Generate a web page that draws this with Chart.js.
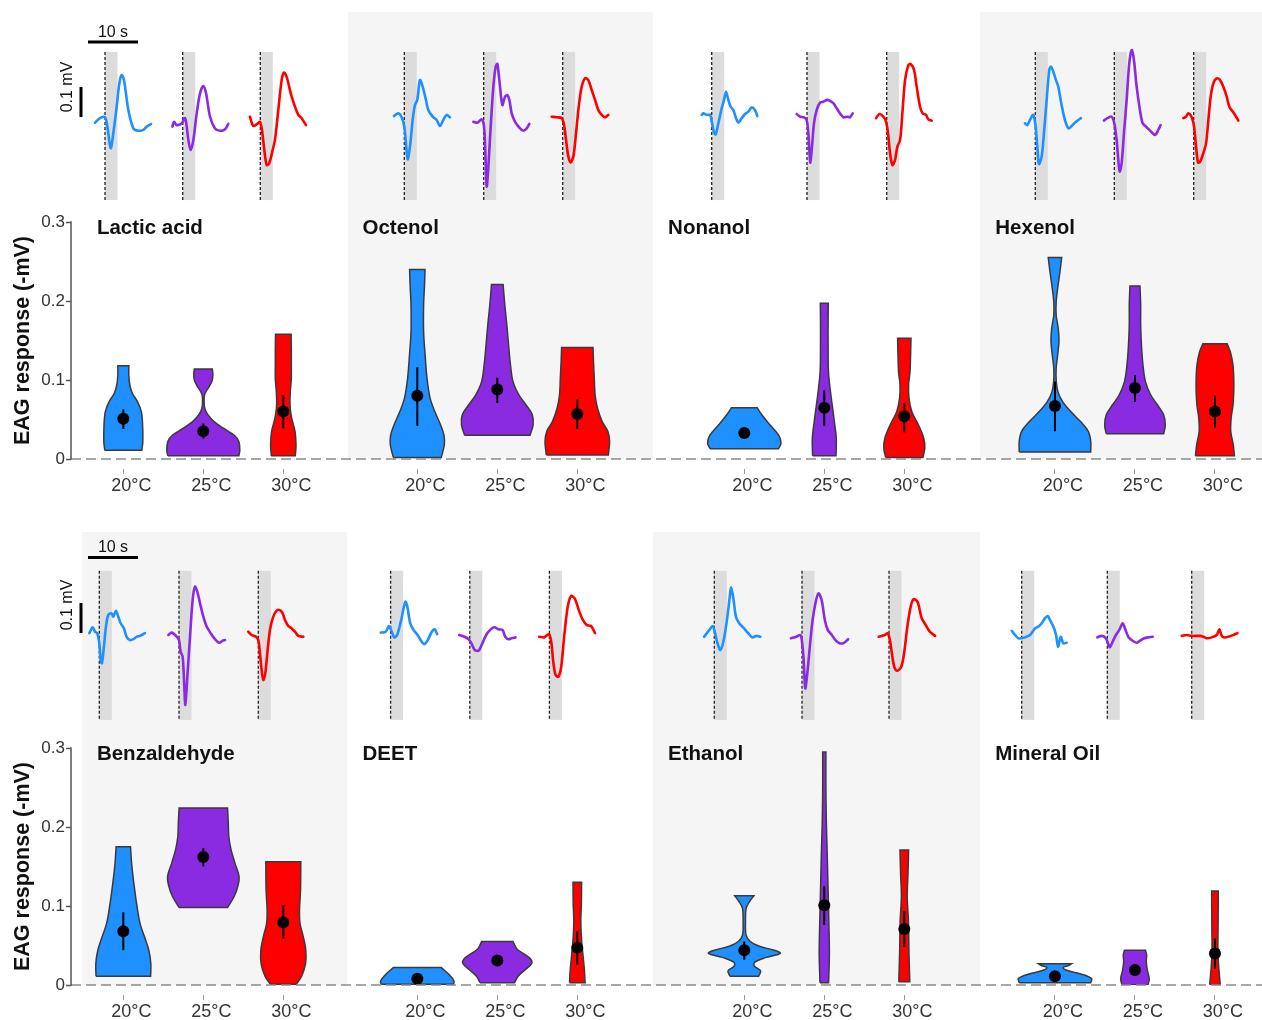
<!DOCTYPE html>
<html>
<head>
  <meta charset="utf-8">
  <title>EAG responses by temperature</title>
  <script src="https://cdn.jsdelivr.net/npm/chart.js"></script>
  <style>
    html, body { margin: 0; padding: 0; background: #fff; }
    canvas { position: absolute; left: 0; }
    #row1 { top: 0; }
    #row2 { top: 526px; }
  </style>
</head>
<body>
  <canvas id="row1" width="1262" height="526"></canvas>
  <canvas id="row2" width="1262" height="494"></canvas>

  <script>
    // ---------- data ----------
    const temperatures = ['20°C', '25°C', '30°C'];
    const yTicks = [0, 0.1, 0.2, 0.3];
    const odorsTop = ['Lactic acid', 'Octenol', 'Nonanol', 'Hexenol'];
    const odorsBottom = ['Benzaldehyde', 'DEET', 'Ethanol', 'Mineral Oil'];

    // mean EAG response (-mV) and error bar [low, high] per temperature
    const lacticMean = [0.051, 0.035, 0.060];
    const lacticErr = [[0.038, 0.063], [0.026, 0.045], [0.039, 0.081]];
    const octenolMean = [0.080, 0.088, 0.057];
    const octenolErr = [[0.042, 0.116], [0.071, 0.103], [0.038, 0.076]];
    const nonanolMean = [0.033, 0.065, 0.054];
    const nonanolErr = [[0.030, 0.036], [0.042, 0.087], [0.034, 0.071]];
    const hexenolMean = [0.067, 0.090, 0.060];
    const hexenolErr = [[0.035, 0.098], [0.072, 0.106], [0.040, 0.080]];
    const benzMean = [0.068, 0.162, 0.079];
    const benzErr = [[0.044, 0.092], [0.150, 0.173], [0.059, 0.101]];
    const deetMean = [0.008, 0.031, 0.047];
    const deetErr = [[0.006, 0.010], [0.028, 0.034], [0.026, 0.068]];
    const ethanolMean = [0.044, 0.101, 0.071];
    const ethanolErr = [[0.032, 0.055], [0.076, 0.125], [0.048, 0.094]];
    const mineralMean = [0.011, 0.019, 0.040];
    const mineralErr = [[0.009, 0.013], [0.017, 0.021], [0.021, 0.059]];

    // violin outlines: [response, density] from bottom to top
    const lacticViolin = [
      [[0.011,18.5],[0.022,19.5],[0.043,19.3],[0.060,18],[0.073,14],[0.083,9],[0.094,6.5],[0.106,5.5],[0.118,5.5]],
      [[0.004,35.5],[0.011,36.5],[0.022,35.5],[0.030,31],[0.039,20],[0.047,11],[0.056,4.5],[0.064,1.5],[0.073,0.8],[0.081,1.2],[0.085,2.5],[0.092,6],[0.100,9],[0.108,9.5],[0.114,9]],
      [[0.004,12],[0.018,12.7],[0.035,11.7],[0.052,8.3],[0.068,6.7],[0.085,7],[0.102,8],[0.119,8],[0.136,8],[0.158,7.8]]
    ];
    const octenolViolin = [
      [[0.002,24],[0.018,27],[0.030,26.7],[0.043,23.3],[0.060,17.5],[0.077,12.8],[0.102,9.7],[0.132,7.8],[0.161,6.3],[0.195,6.3],[0.220,7.2],[0.240,7.7]],
      [[0.030,32.7],[0.043,35.8],[0.056,35],[0.068,29],[0.081,21.7],[0.098,15.7],[0.119,13.2],[0.144,11.3],[0.170,9.5],[0.195,7.5],[0.221,5.8]],
      [[0.005,31],[0.022,32.3],[0.035,30.5],[0.047,25],[0.064,20.3],[0.081,17.8],[0.102,17],[0.123,16.2],[0.141,15.7]]
    ];
    const nonanolViolin = [
      [[0.013,34.2],[0.020,36.7],[0.030,34.5],[0.043,25.8],[0.056,17.5],[0.065,12.8]],
      [[0.004,11.7],[0.026,12],[0.043,10.5],[0.060,8.8],[0.085,6.2],[0.110,4.2],[0.144,3.8],[0.174,3.8],[0.197,4]],
      [[0.002,18.7],[0.014,20.5],[0.026,19.5],[0.043,14.2],[0.060,7.5],[0.077,4.7],[0.094,4.3],[0.110,5.7],[0.132,6.3],[0.153,6.7]]
    ];
    const hexenolViolin = [
      [[0.009,35.7],[0.022,35.8],[0.035,33.3],[0.047,25.8],[0.060,15.8],[0.073,7.5],[0.085,3],[0.098,1.3],[0.115,1.2],[0.132,2.7],[0.149,4],[0.165,3.3],[0.182,1.2],[0.199,1.2],[0.216,2.7],[0.237,5],[0.255,6.7]],
      [[0.032,28.7],[0.043,30.3],[0.056,28.7],[0.068,22.8],[0.081,15.8],[0.098,10.5],[0.119,8],[0.144,6.5],[0.170,5.7],[0.195,5.7],[0.219,5]],
      [[0.004,19.5],[0.018,18.3],[0.035,15.8],[0.052,16.2],[0.068,18],[0.085,18.8],[0.102,18.8],[0.119,18],[0.136,15.3],[0.146,12]]
    ];
    const benzViolin = [
      [[0.011,27.3],[0.027,27.5],[0.044,25.5],[0.061,21.2],[0.078,16.7],[0.103,13.3],[0.129,10.5],[0.154,8.3],[0.175,7.2]],
      [[0.098,24.2],[0.112,30.8],[0.125,34.5],[0.137,35.8],[0.154,31.7],[0.171,27.8],[0.188,25.5],[0.205,25],[0.224,24.2]],
      [[0.001,13],[0.011,18.3],[0.027,22.2],[0.044,22.5],[0.061,20],[0.078,16.7],[0.095,16.2],[0.120,17.2],[0.156,17.5]]
    ];
    const deetViolin = [
      [[0.001,36.2],[0.005,36.7],[0.013,32],[0.022,24]],
      [[0.003,17.3],[0.011,20.8],[0.019,27.6],[0.027,34.3],[0.033,33.3],[0.040,25.9],[0.046,19.4],[0.055,15.7]],
      [[0.003,7.8],[0.019,7.1],[0.040,5.5],[0.061,4.1],[0.082,3.5],[0.103,4.1],[0.130,4.3]]
    ];
    const ethanolViolin = [
      [[0.011,14.3],[0.018,16.3],[0.024,10],[0.029,10.5],[0.035,22],[0.040,35.9],[0.044,30],[0.049,15],[0.055,6],[0.063,1.8],[0.082,1.2],[0.097,1.8],[0.106,5.5],[0.113,9.6]],
      [[0.003,4.3],[0.040,5.1],[0.082,4.5],[0.125,3.7],[0.167,2.9],[0.209,2],[0.251,1.6],[0.295,1.6]],
      [[0.004,5.5],[0.040,4.7],[0.082,4.1],[0.112,2.9],[0.141,3.7],[0.171,4.3]]
    ];
    const mineralViolin = [
      [[0.003,35.7],[0.008,36.7],[0.014,25.8],[0.018,13.3],[0.022,8],[0.025,14.2],[0.027,16.7]],
      [[0.0004,13],[0.008,14.3],[0.019,12.3],[0.030,11.3],[0.038,11.7],[0.044,10.5]],
      [[0.0004,5.3],[0.019,4],[0.040,3],[0.061,3],[0.103,3.3],[0.119,3.3]]
    ];

    // example EAG traces: [time from stimulus onset (s), voltage (mV)]
    const lacticTrace = [
      [[-2,-0.009],[-1,0.006],[0,0.009],[0.47,-0.022],[1.13,-0.094],[1.67,-0.044],[2.33,0.044],[2.87,0.122],[3.33,0.15],[3.8,0.133],[4.67,0.033],[5.67,-0.028],[6.67,-0.036],[7.67,-0.033],[8.33,-0.022],[9.2,-0.014]],
      [[-2.07,-0.022],[-1.73,-0.006],[-1.2,-0.017],[-0.2,-0.011],[0.47,0.006],[0.8,-0.022],[1.13,-0.067],[1.6,-0.1],[2.13,-0.067],[2.8,0.022],[3.47,0.089],[4.13,0.113],[4.67,0.089],[5.47,0.011],[6.47,-0.028],[7.47,-0.036],[8.47,-0.031],[9.13,-0.013]],
      [[-2.07,0.011],[-1.4,-0.02],[-0.6,-0.013],[-0.07,-0.006],[0.33,-0.033],[0.73,-0.089],[1.27,-0.15],[1.8,-0.144],[2.47,-0.1],[2.93,-0.067],[3.6,0.033],[4.27,0.133],[4.73,0.158],[5.27,0.144],[6.27,0.078],[7.6,0.017],[8.27,0.006],[9.13,-0.017]]
    ];
    const octenolTrace = [
      [[-2.07,0.013],[-1.2,0.022],[-0.53,0.009],[0,-0.022],[0.33,-0.078],[0.67,-0.131],[1.13,-0.089],[1.67,0],[2.13,0.05],[2.6,0.067],[3.13,0.133],[3.67,0.111],[4.33,0.067],[4.8,0.033],[5.67,0.011],[6.47,0],[7.13,-0.02],[7.8,0],[8.47,0.017],[9.13,0.009]],
      [[-2.07,-0.006],[-1.27,-0.009],[-0.4,0.002],[0.07,-0.022],[0.33,-0.111],[0.6,-0.222],[0.93,-0.156],[1.4,-0.022],[1.93,0.111],[2.4,0.178],[2.73,0.187],[3.13,0.133],[3.73,0.05],[4.27,0.078],[4.73,0.083],[5.13,0.067],[5.6,0.022],[6.27,-0.006],[7.27,-0.028],[7.93,-0.036],[8.6,-0.028],[9.13,-0.013]],
      [[-2.2,0.011],[-1.2,0.009],[-0.2,0.006],[0.27,-0.017],[0.67,-0.067],[1.13,-0.122],[1.6,-0.142],[2.13,-0.122],[2.67,-0.044],[3.2,0.044],[3.8,0.111],[4.47,0.139],[5.13,0.133],[5.8,0.1],[6.47,0.067],[7.13,0.033],[7.8,0.017],[8.47,0.009],[9.13,0.017]]
    ];
    const nonanolTrace = [
      [[-2,0.017],[-1.67,0.022],[-1,0.017],[-0.33,0.017],[0.07,-0.011],[0.47,-0.042],[0.8,-0.048],[1.33,-0.011],[2,0.039],[2.47,0.067],[2.87,0.094],[3.33,0.067],[3.8,0.044],[4.33,0.033],[4.87,0.006],[5.33,-0.009],[6,0.006],[6.67,0.02],[7.33,0.028],[8,0.042],[8.67,0.033],[9.13,0.013]],
      [[-2.07,0.02],[-1.4,0.011],[-0.6,0.009],[-0.07,0],[0.27,-0.044],[0.47,-0.1],[0.67,-0.142],[1,-0.089],[1.4,-0.011],[1.93,0.033],[2.6,0.058],[3.27,0.061],[4.07,0.067],[4.6,0.064],[5.27,0.056],[5.93,0.039],[6.6,0.022],[7.27,0.009],[8.07,0.011],[8.6,0.009],[9.13,0.022]],
      [[-2.13,0.006],[-1.47,0.02],[-0.67,0.011],[-0.13,-0.006],[0.27,-0.044],[0.67,-0.111],[1.13,-0.15],[1.67,-0.133],[2.13,-0.089],[2.67,-0.067],[3.13,0.022],[3.67,0.133],[4.33,0.183],[4.8,0.187],[5.47,0.167],[6,0.111],[6.67,0.044],[7.2,0.022],[7.87,0.017],[8.33,0.002],[9,-0.002]]
    ];
    const hexenolTrace = [
      [[-2.07,-0.011],[-1.6,-0.017],[-1.07,0],[-0.4,0.017],[0.07,-0.022],[0.4,-0.089],[0.73,-0.147],[1.27,-0.122],[1.73,-0.044],[2.27,0.067],[2.8,0.167],[3.13,0.178],[3.6,0.161],[4.13,0.133],[4.6,0.111],[5.07,0.067],[5.6,0.022],[6.13,-0.011],[6.67,-0.028],[7.27,-0.02],[7.93,-0.009],[8.6,0],[9.13,0.006]],
      [[-2.07,-0.002],[-1.4,0.006],[-0.53,0.011],[0,-0.011],[0.47,-0.067],[0.8,-0.133],[1.07,-0.172],[1.47,-0.144],[1.93,-0.044],[2.47,0.067],[2.93,0.178],[3.27,0.222],[3.53,0.233],[3.93,0.2],[4.47,0.111],[5.13,0.033],[5.67,-0.011],[6.33,-0.022],[7,-0.033],[7.67,-0.044],[8.2,-0.05],[8.8,-0.033],[9.27,-0.017]],
      [[-2.07,0.006],[-1.53,0.011],[-1.07,0.022],[-0.4,0.009],[0.07,-0.022],[0.47,-0.089],[0.87,-0.142],[1.27,-0.139],[1.8,-0.117],[2.47,-0.078],[2.93,0],[3.4,0.078],[3.93,0.122],[4.6,0.139],[5.27,0.133],[5.93,0.111],[6.6,0.078],[7.13,0.044],[7.8,0.028],[8.47,0.011],[8.93,-0.002]]
    ];
    const benzTrace = [
      [[-2,-0.004],[-1.33,0.016],[-0.87,0.001],[-0.4,-0.004],[0,-0.038],[0.27,-0.093],[0.53,-0.104],[0.93,-0.049],[1.33,0.018],[1.8,0.057],[2.47,0.062],[2.8,0.051],[3.33,0.071],[3.8,0.051],[4.27,0.029],[4.93,0.012],[5.47,-0.016],[6.13,-0.027],[6.8,-0.024],[7.47,-0.016],[8.13,-0.013],[9.13,-0.004]],
      [[-2.13,-0.01],[-1.47,-0.002],[-0.6,-0.013],[0,-0.027],[0.33,-0.066],[0.73,-0.082],[1,-0.16],[1.27,-0.243],[1.67,-0.149],[2.2,-0.016],[2.73,0.107],[3.2,0.151],[3.67,0.134],[4.2,0.096],[4.87,0.051],[5.53,0.018],[6.33,-0.004],[7.2,-0.024],[8.07,-0.036],[8.73,-0.029],[9.2,-0.027]],
      [[-2,0.001],[-1.33,-0.01],[-0.47,-0.016],[0,-0.027],[0.33,-0.071],[0.67,-0.127],[1,-0.16],[1.4,-0.138],[1.8,-0.071],[2.33,0.007],[3,0.051],[3.67,0.071],[4.33,0.073],[4.87,0.062],[5.33,0.04],[6,0.02],[6.67,0.012],[7.33,0.001],[8,-0.013],[9,-0.016]]
    ];
    const deetTrace = [
      [[-1.96,-0.002],[-0.98,0.001],[-0.33,0.02],[0.08,0.007],[0.73,-0.018],[1.31,-0.01],[2.12,0.04],[2.94,0.101],[3.35,0.084],[3.92,0.029],[4.57,0.007],[5.39,-0.01],[6.2,-0.032],[6.78,-0.04],[7.43,-0.027],[8.24,0.001],[8.82,0.009],[9.31,-0.007]],
      [[-2.12,-0.01],[-1.06,-0.016],[-0.24,-0.024],[0.33,-0.038],[0.98,-0.06],[1.8,-0.062],[2.45,-0.04],[3.27,-0.01],[4.08,0.007],[4.9,0.016],[5.71,0.009],[6.53,0.007],[7.1,-0.016],[7.67,-0.024],[8.33,-0.021],[9.14,-0.018]],
      [[-2.04,-0.016],[-1.06,-0.018],[-0.08,-0.007],[0.41,-0.038],[0.73,-0.093],[1.22,-0.143],[1.8,-0.149],[2.37,-0.116],[3.02,-0.004],[3.67,0.084],[4.33,0.12],[5.06,0.112],[5.88,0.073],[6.69,0.04],[7.51,0.023],[8.33,0.02],[9.14,-0.004]]
    ];
    const ethanolTrace = [
      [[-2.04,-0.016],[-0.98,0.007],[-0.33,0.02],[0.08,0.001],[0.65,-0.038],[1.22,-0.06],[1.88,-0.027],[2.53,0.04],[3.1,0.118],[3.35,0.149],[3.76,0.118],[4.33,0.051],[4.98,0.029],[5.96,0.012],[6.78,-0.004],[7.59,-0.018],[8.41,-0.013],[9.22,-0.016]],
      [[-2.2,-0.021],[-1.14,-0.016],[-0.33,-0.01],[0,-0.032],[0.33,-0.093],[0.65,-0.188],[1.06,-0.138],[1.63,-0.038],[2.12,0.04],[2.69,0.096],[3.27,0.129],[3.92,0.107],[4.57,0.04],[5.14,0.007],[5.96,-0.01],[6.78,-0.029],[7.59,-0.038],[8.41,-0.036],[9.22,-0.024]],
      [[-2.04,-0.016],[-0.82,-0.01],[-0.24,-0.004],[0.24,-0.032],[0.57,-0.071],[1.06,-0.116],[1.63,-0.129],[2.45,-0.116],[3.02,-0.071],[3.67,0.018],[4.33,0.084],[4.9,0.109],[5.71,0.101],[6.53,0.046],[7.35,0.023],[8.16,0.001],[9.22,-0.013]]
    ];
    const mineralTrace = [
      [[-2,0.004],[-1.33,-0.01],[-0.67,-0.021],[0,-0.021],[0.67,-0.018],[1.67,-0.01],[2.67,0.012],[3.33,0.018],[4,0.029],[4.67,0.046],[5.2,0.053],[5.67,0.04],[6.33,0.018],[6.87,-0.01],[7.27,-0.049],[7.8,-0.016],[8.33,-0.038],[9,-0.036]],
      [[-2,-0.018],[-1.13,-0.013],[-0.27,-0.021],[0.13,-0.038],[0.53,-0.051],[1.07,-0.032],[1.73,-0.01],[2.4,0.007],[3.07,0.029],[3.53,0.012],[4.2,-0.016],[4.87,-0.027],[5.87,-0.036],[6.53,-0.029],[7.4,-0.021],[8.07,-0.018],[9.07,-0.016]],
      [[-2,-0.013],[-1,-0.01],[0,-0.013],[1.67,-0.013],[2.33,-0.016],[3,-0.021],[4,-0.018],[5,-0.01],[5.53,0.009],[6,-0.013],[6.47,-0.018],[7.33,-0.016],[8.33,-0.01],[9.13,-0.004]]
    ];

    // ---------- layout and style ----------
    const FONT = '"Liberation Sans", Arial, Helvetica, sans-serif';
    const COLORS = ['#1e90ff', '#8a2be2', '#ff0000'];
    const OUTLINE = '#3a3a3a';
    const PANEL_GREY = '#f5f5f5';
    const BAND_GREY = '#dcdcdc';

    const X_MIN = -0.654, X_MAX = 14.234;       // category units
    const GROUP_X = [0, 3.675, 7.7625, 11.646];  // position of the 20°C violin in each panel
    const TITLE_X = [-0.33, 2.99, 6.81, 10.9];
    const DENSITY_TO_X = 1 / 80;
    const T_MAX = 238.2;                          // trace time axis across the plot (s)
    const STIM_S = 2.5;
    const AXIS_BOTTOM = 459;

    const rows = [
      {
        canvas: 'row1', height: 526, top: 12, odors: odorsTop,
        means: [lacticMean, octenolMean, nonanolMean, hexenolMean],
        errs: [lacticErr, octenolErr, nonanolErr, hexenolErr],
        violins: [lacticViolin, octenolViolin, nonanolViolin, hexenolViolin],
        traces: [lacticTrace, octenolTrace, nonanolTrace, hexenolTrace],
        onsets: [[6.8, 22.34, 37.86], [66.66, 82.54, 98.34], [128.14, 147.2, 163.14], [192.86, 208.66, 224.54]],
        panels: [[2.809, 6.621], [10.709, 15]],
        yt: [-1.13, 0.36], stim: [-0.267, 0.227],
        bar: { t0: 3.4, y: 0.26, labelY: 0.293, vt: 2.0, v0: 0.01, labelT: -0.6, labelV: 0.11 }
      },
      {
        canvas: 'row2', height: 494, top: 6, odors: odorsBottom,
        means: [benzMean, deetMean, ethanolMean, mineralMean],
        errs: [benzErr, deetErr, ethanolErr, mineralErr],
        violins: [benzViolin, deetViolin, ethanolViolin, mineralViolin],
        traces: [benzTrace, deetTrace, ethanolTrace, mineralTrace],
        onsets: [[5.66, 21.6, 37.46], [63.92, 79.76, 95.68], [128.66, 146.2, 163.6], [190.14, 207.26, 224.14]],
        panels: [[-0.516, 2.796], [6.621, 10.709]],
        yt: [-1.1767, 0.3333], stim: [-0.293, 0.204],
        bar: { t0: 3.4, y: 0.248, labelY: 0.28, vt: 2.0, v0: -0.003, labelT: -0.6, labelV: 0.09 }
      }
    ];

    Chart.defaults.font.family = FONT;

    // closed outline; corners doubled so the flat ends stay straight
    function violinPoints(center, profile) {
      const right = profile.map(([v, d]) => ({ x: center + d * DENSITY_TO_X, y: v }));
      const left = profile.map(([v, d]) => ({ x: center - d * DENSITY_TO_X, y: v })).reverse();
      const n = right.length;
      const bl = left[n - 1], br = right[0], tr = right[n - 1], tl = left[0];
      return [bl, bl, br, br, ...right.slice(1, n - 1), tr, tr, tl, tl, ...left.slice(1, n - 1), bl, bl]
        .map(p => ({ x: p.x, y: p.y }));
    }

    function buildDatasets(row) {
      const ds = [];
      const bars = [];
      const dots = [];
      row.odors.forEach((odor, g) => {
        temperatures.forEach((temp, c) => {
          const center = GROUP_X[g] + c;
          ds.push({
            type: 'line', label: odor + ' ' + temp,
            data: violinPoints(center, row.violins[g][c]),
            xAxisID: 'x', yAxisID: 'y',
            borderColor: OUTLINE, borderWidth: 1.5, backgroundColor: COLORS[c],
            fill: 'shape', tension: 0.35, pointRadius: 0, order: 3
          });
          ds.push({
            type: 'line', label: odor + ' trace ' + temp,
            data: row.traces[g][c].map(([t, v]) => ({ x: row.onsets[g][c] + t, y: v })),
            xAxisID: 'xt', yAxisID: 'yt',
            borderColor: COLORS[c], borderWidth: 2.6, borderCapStyle: 'round', borderJoinStyle: 'round',
            tension: 0.3, pointRadius: 0, fill: false, order: 3
          });
          const [lo, hi] = row.errs[g][c];
          bars.push({ x: center, y: lo }, { x: center, y: hi }, { x: center, y: null });
          dots.push({ x: center, y: row.means[g][c] });
        });
      });
      ds.push({
        type: 'line', label: 'error', data: bars, xAxisID: 'x', yAxisID: 'y',
        borderColor: '#000', borderWidth: 2, pointRadius: 0, fill: false, spanGaps: false, order: 2
      });
      ds.push({
        type: 'scatter', label: 'mean', data: dots, xAxisID: 'x', yAxisID: 'y',
        backgroundColor: '#000', borderWidth: 0, pointRadius: 6, order: 1
      });
      return ds;
    }

    // backgrounds, stimulus windows, titles and scale bars for one row
    function makeDecor(row) {
      return {
        id: 'decor',
        beforeDraw(chart) {
          const { ctx, chartArea: a, scales: { x, xt, yt } } = chart;
          ctx.save();
          ctx.fillStyle = PANEL_GREY;
          row.panels.forEach(([x0, x1]) => {
            const p0 = Math.max(x.getPixelForValue(x0), a.left);
            const p1 = Math.min(x.getPixelForValue(x1), a.right);
            ctx.fillRect(p0, a.top, p1 - p0, a.bottom - a.top);
          });
          const yTop = yt.getPixelForValue(row.stim[1]);
          const yBot = yt.getPixelForValue(row.stim[0]);
          row.onsets.flat().forEach(t => {
            const p0 = xt.getPixelForValue(t);
            const p1 = xt.getPixelForValue(t + STIM_S);
            ctx.fillStyle = BAND_GREY;
            ctx.fillRect(p0, yTop, p1 - p0, yBot - yTop);
            ctx.strokeStyle = '#222';
            ctx.lineWidth = 1.3;
            ctx.setLineDash([3, 2]);
            ctx.beginPath();
            ctx.moveTo(p0, yTop);
            ctx.lineTo(p0, yBot);
            ctx.stroke();
          });
          ctx.restore();
        },
        afterDraw(chart) {
          const { ctx, chartArea: a, scales: { x, y, xt, yt } } = chart;
          ctx.save();

          // dashed zero line
          ctx.strokeStyle = '#8a8a8a';
          ctx.lineWidth = 1.5;
          ctx.setLineDash([10, 5]);
          ctx.beginPath();
          ctx.moveTo(a.left, y.getPixelForValue(0));
          ctx.lineTo(a.right, y.getPixelForValue(0));
          ctx.stroke();
          ctx.setLineDash([]);

          // y axis line only over 0 - 0.3
          ctx.strokeStyle = '#555';
          ctx.beginPath();
          ctx.moveTo(a.left, y.getPixelForValue(0) + 0.75);
          ctx.lineTo(a.left, y.getPixelForValue(0.3) - 0.75);
          ctx.stroke();

          // panel titles
          ctx.fillStyle = '#111';
          ctx.font = 'bold 20.5px ' + FONT;
          ctx.textAlign = 'left';
          ctx.textBaseline = 'alphabetic';
          row.odors.forEach((odor, g) => {
            ctx.fillText(odor, x.getPixelForValue(TITLE_X[g]), y.getPixelForValue(0.285));
          });

          // y axis title
          ctx.save();
          ctx.font = 'bold 21.5px ' + FONT;
          ctx.translate(a.left - 48, y.getPixelForValue(0.15));
          ctx.rotate(-Math.PI / 2);
          ctx.textAlign = 'center';
          ctx.textBaseline = 'middle';
          ctx.fillText('EAG response (-mV)', 0, 0);
          ctx.restore();

          // scale bars
          const b = row.bar;
          ctx.strokeStyle = '#000';
          ctx.lineWidth = 3;
          ctx.beginPath();
          ctx.moveTo(xt.getPixelForValue(b.t0), yt.getPixelForValue(b.y));
          ctx.lineTo(xt.getPixelForValue(b.t0 + 10), yt.getPixelForValue(b.y));
          ctx.moveTo(xt.getPixelForValue(b.vt), yt.getPixelForValue(b.v0));
          ctx.lineTo(xt.getPixelForValue(b.vt), yt.getPixelForValue(b.v0 + 0.1));
          ctx.stroke();
          ctx.font = '16px ' + FONT;
          ctx.fillStyle = '#111';
          ctx.textAlign = 'center';
          ctx.textBaseline = 'middle';
          ctx.fillText('10 s', xt.getPixelForValue(b.t0 + 5), yt.getPixelForValue(b.labelY));
          ctx.translate(xt.getPixelForValue(b.labelT), yt.getPixelForValue(b.labelV));
          ctx.rotate(-Math.PI / 2);
          ctx.fillText('0.1 mV', 0, 0);
          ctx.restore();
        }
      };
    }

    rows.forEach(row => {
      const ctx = document.getElementById(row.canvas).getContext('2d');
      new Chart(ctx, {
        type: 'line',
        data: { datasets: buildDatasets(row) },
        plugins: [makeDecor(row)],
        options: {
          responsive: false,
          animation: false,
          events: [],
          layout: { autoPadding: false, padding: { top: row.top, left: 0, right: 0, bottom: 0 } },
          plugins: {
            legend: { display: false },
            tooltip: { enabled: false }
          },
          scales: {
            x: {
              type: 'linear', position: 'bottom', min: X_MIN, max: X_MAX,
              afterBuildTicks: s => {
                s.ticks = GROUP_X.flatMap(g => temperatures.map((t, c) => ({ value: g + c })));
              },
              afterFit: s => { s.height = row.height - AXIS_BOTTOM; s.paddingLeft = 0; s.paddingRight = 0; },
              ticks: {
                callback: (v, i) => temperatures[i % 3],
                font: { size: 18 }, color: '#333', padding: 1, labelOffset: 8,
                maxRotation: 0, autoSkip: false
              },
              grid: {
                drawOnChartArea: false, tickLength: 15, tickColor: '#999', tickWidth: 1,
                tickBorderDash: [0, 10, 5, 100]
              },
              border: { display: false }
            },
            y: {
              type: 'linear', position: 'left', min: 0,
              max: 0.3 * (AXIS_BOTTOM - row.top) / 237,
              afterBuildTicks: s => { s.ticks = yTicks.map(v => ({ value: v })); },
              afterFit: s => { s.width = 71; s.paddingTop = 0; s.paddingBottom = 0; },
              ticks: {
                callback: v => (v === 0 ? '0' : v.toFixed(1)),
                font: { size: 17 }, color: '#333', padding: 1
              },
              grid: { drawOnChartArea: false, tickLength: 5, tickColor: '#555', tickWidth: 1.5 },
              border: { display: false }
            },
            xt: { type: 'linear', display: false, min: 0, max: T_MAX },
            yt: { type: 'linear', display: false, min: row.yt[0], max: row.yt[1] }
          }
        }
      });
    });
  </script>
</body>
</html>
